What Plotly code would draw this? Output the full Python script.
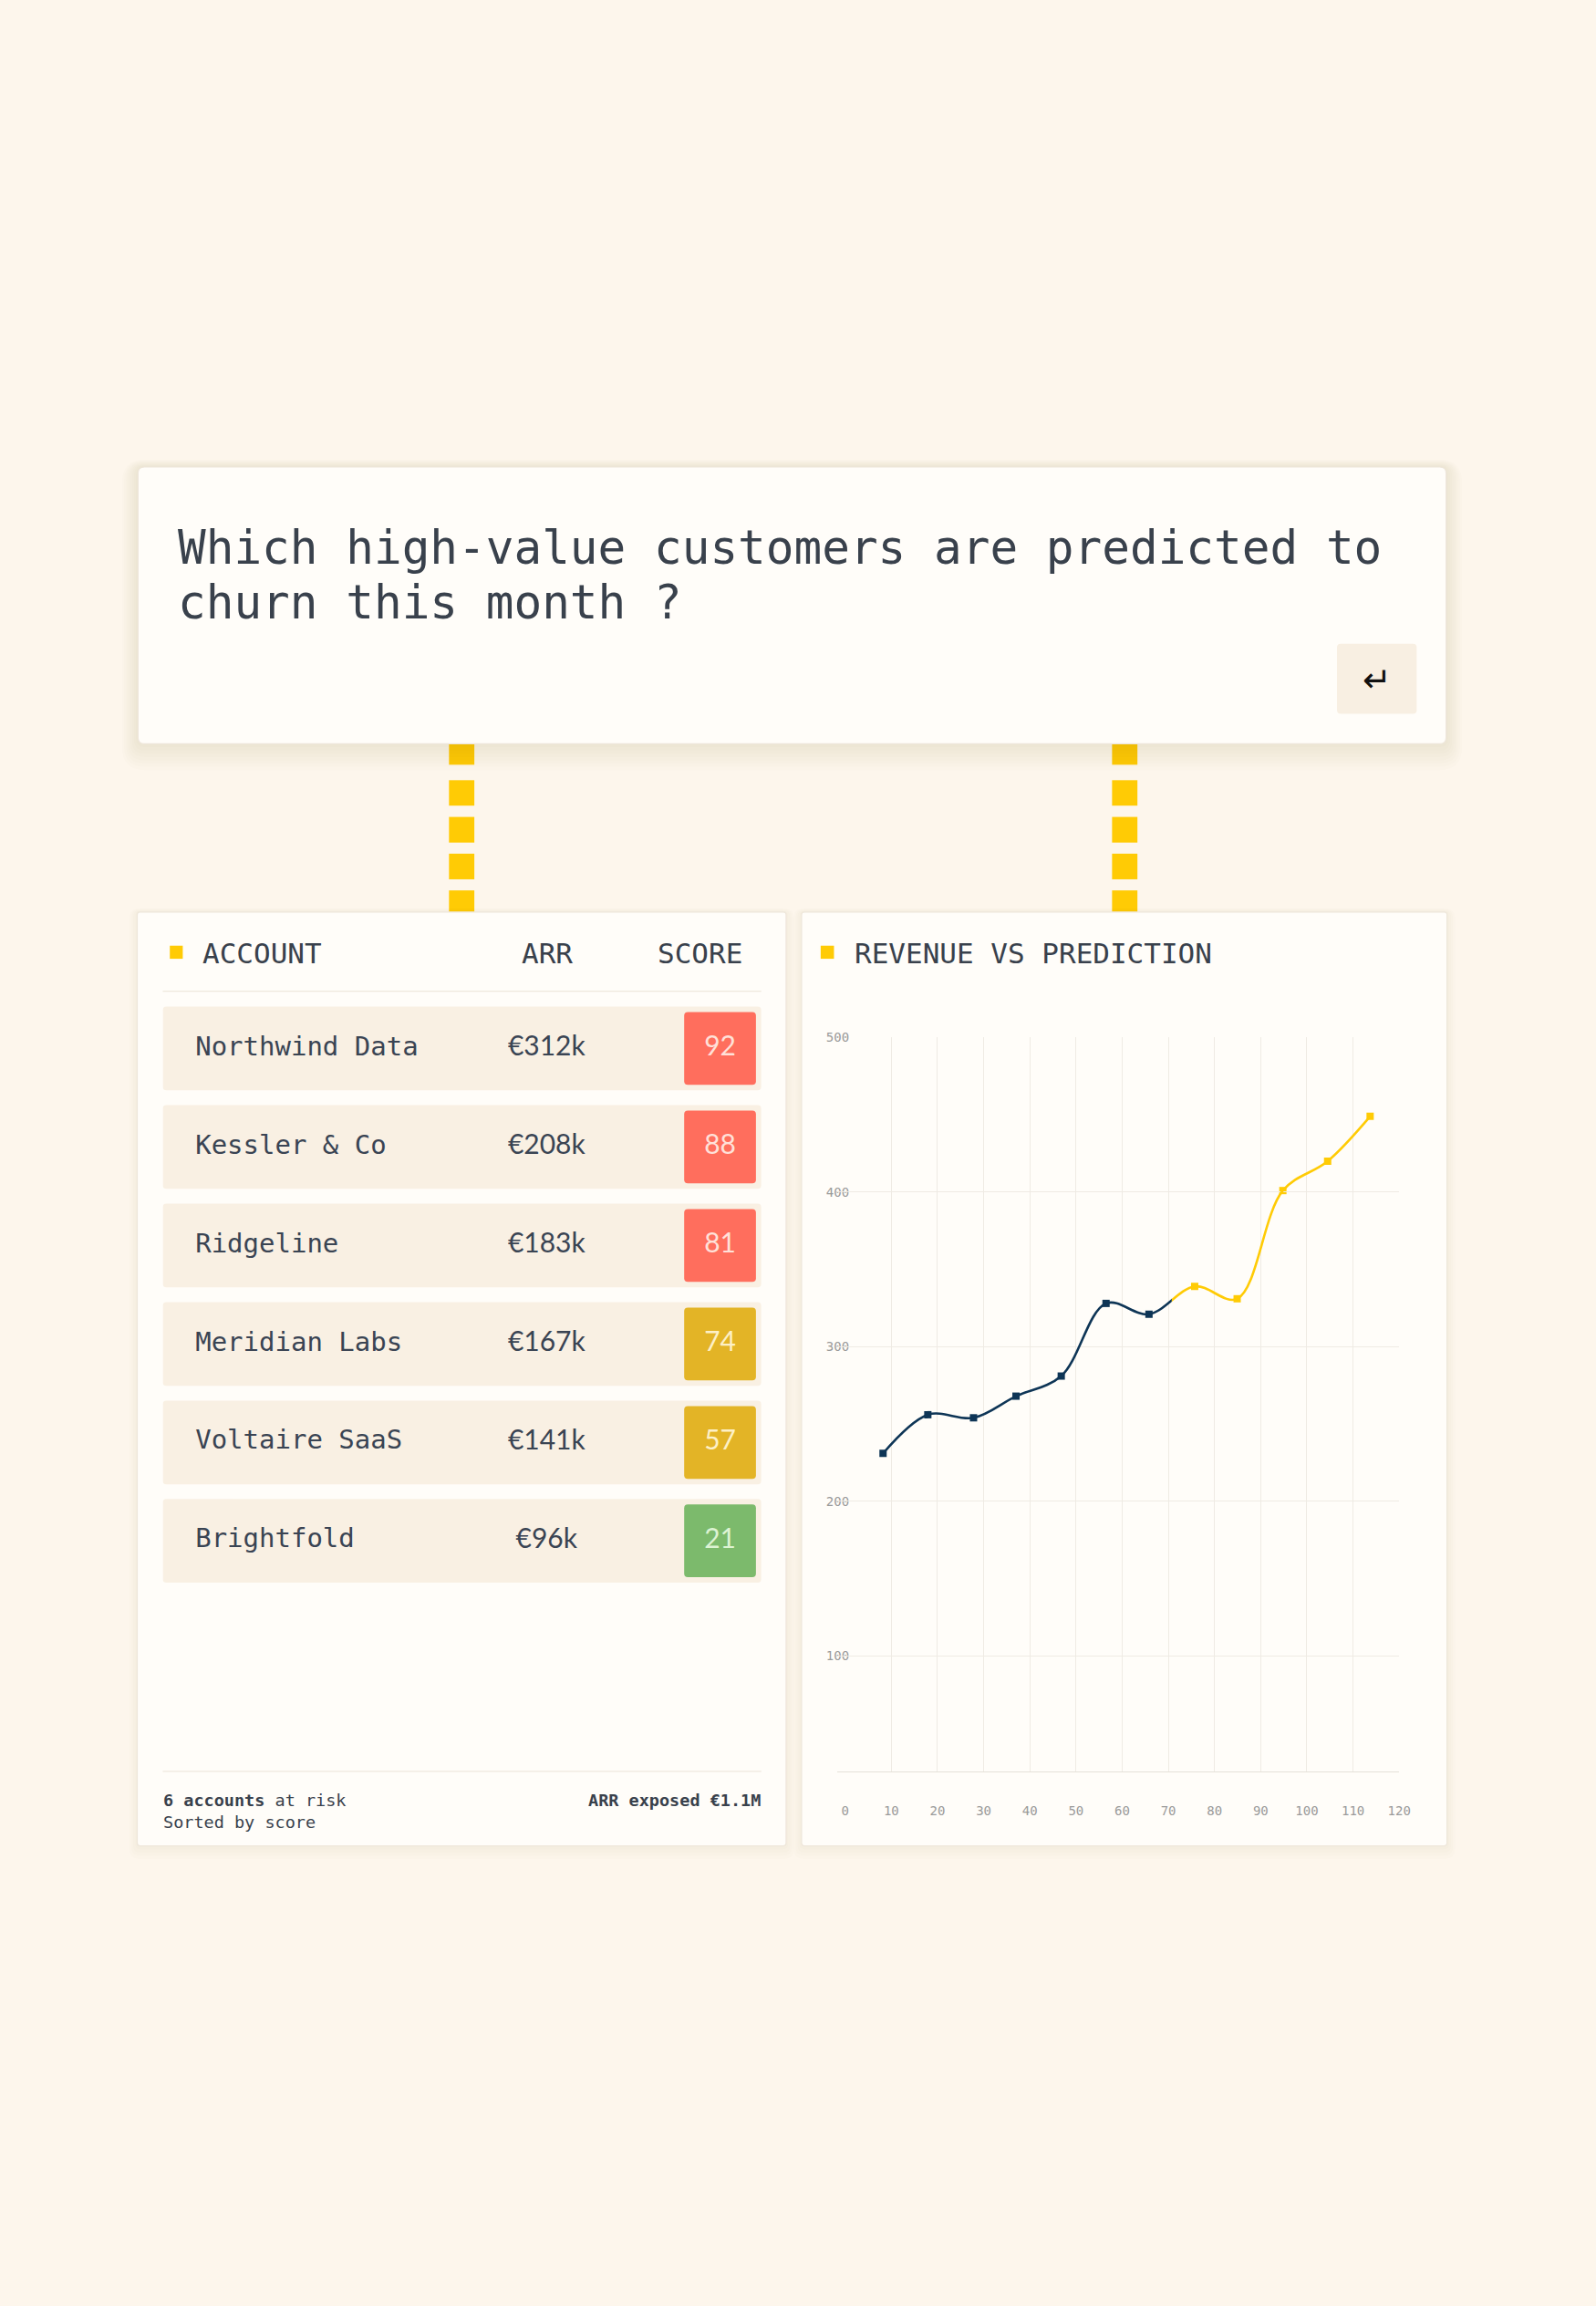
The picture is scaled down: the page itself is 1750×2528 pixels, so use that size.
import plotly.graph_objects as go

# ---------------- data ----------------
question = "Which high-value customers are predicted to"
question2 = "churn this month ?"

accounts = ["Northwind Data", "Kessler & Co", "Ridgeline", "Meridian Labs", "Voltaire SaaS", "Brightfold"]
arr_labels = ["€312k", "€208k", "€183k", "€167k", "€141k", "€96k"]
scores = [92, 88, 81, 74, 57, 21]

actual_x = [8.2, 17.9, 27.8, 37.0, 46.8, 56.5, 65.8]
actual_y = [231, 256, 254, 268, 281, 328, 321]
pred_x = [75.7, 84.9, 94.8, 104.5, 113.7]
pred_y = [339, 331, 401, 420, 449]

x_ticks = [0, 10, 20, 30, 40, 50, 60, 70, 80, 90, 100, 110, 120]
y_ticks = [100, 200, 300, 400, 500]

footer_left = "<b>6 accounts</b> at risk<br>Sorted by score"
footer_right = "<b>ARR exposed €1.1M</b>"

# ---------------- style ----------------
W, H = 1750, 2528
BG = "#FDF6EC"
CARD = "#FFFDF9"
CARD_BORDER = "#EEE6DA"
ROW = "#F9F0E3"
TEXT = "#39414C"
NAME = "#3A4453"
YELLOW = "#FFCB05"
NAVY = "#0E3556"
GRID = "#EFEBE4"
TICK = "#9A9A9A"
MONO = "DejaVu Sans Mono"
SANS = "Lato"


def score_fill(s):
    if s >= 80:
        return "#FF6E5D"
    if s >= 50:
        return "#E3B426"
    return "#7CBA6C"


def score_text(s):
    if s >= 80:
        return "#FFE1D9"
    if s >= 50:
        return "#FDF0C6"
    return "#DDF3D3"


def fx(x):
    return x / W


def fy(y):
    return 1 - y / H


def rrect(x0, y0, x1, y1, r):
    pts = [
        ("M", [(x0 + r, y0)]), ("L", [(x1 - r, y0)]), ("Q", [(x1, y0), (x1, y0 + r)]),
        ("L", [(x1, y1 - r)]), ("Q", [(x1, y1), (x1 - r, y1)]),
        ("L", [(x0 + r, y1)]), ("Q", [(x0, y1), (x0, y1 - r)]),
        ("L", [(x0, y0 + r)]), ("Q", [(x0, y0), (x0 + r, y0)]),
    ]
    s = ""
    for cmd, ps in pts:
        s += cmd + " " + " ".join(f"{fx(a):.6f},{fy(b):.6f}" for a, b in ps) + " "
    return s + "Z"


shapes = []


def card(x0, y0, x1, y1, r=6, shadow=6, alpha=0.018):
    for i in range(shadow, 0, -1):
        e = i * 2.2
        shapes.append(dict(type="path", xref="paper", yref="paper", layer="below",
                           path=rrect(x0 - e, y0 - e + i * 1.2, x1 + e, y1 + e + i * 1.4, r + e),
                           fillcolor=f"rgba(140,100,50,{alpha})", line=dict(width=0)))
    shapes.append(dict(type="path", xref="paper", yref="paper", layer="below",
                       path=rrect(x0, y0, x1, y1, r), fillcolor=CARD,
                       line=dict(color=CARD_BORDER, width=1.2)))


def rect(x0, y0, x1, y1, color, layer="below"):
    shapes.append(dict(type="rect", xref="paper", yref="paper", layer=layer,
                       x0=fx(x0), x1=fx(x1), y0=fy(y1), y1=fy(y0),
                       fillcolor=color, line=dict(width=0)))


def hline(x0, x1, y, color, width=1.2):
    shapes.append(dict(type="line", xref="paper", yref="paper", layer="below",
                       x0=fx(x0), x1=fx(x1), y0=fy(y), y1=fy(y),
                       line=dict(color=color, width=width)))


# connectors (drawn first so cards cover them)
for cx in (510, 1242.5):
    for a, b in [(806, 833), (850, 878), (890.4, 918.6), (930.8, 959), (971.2, 999)]:
        rect(cx - 14, a, cx + 14, b, YELLOW)

# question card
card(152.5, 505.6, 1597.5, 810, r=7, shadow=8, alpha=0.016)
shapes.append(dict(type="path", xref="paper", yref="paper", layer="below",
                   path=rrect(1477, 700, 1565, 777, 4), fillcolor="#F8EFE2",
                   line=dict(width=0)))

# bottom cards
card(151.6, 995, 868.4, 2022, r=3, shadow=4, alpha=0.014)
card(885.5, 995, 1598.5, 2022, r=3, shadow=4, alpha=0.014)

# headers decorations
rect(187.6, 1032, 201.9, 1046.4, YELLOW)
rect(906.6, 1032, 921.3, 1046.4, YELLOW)
hline(179.8, 841, 1082, "#EFE8DD")
hline(179.8, 841, 1940, "#EFE8DD")

annotations = []


def text(x, y, s, size, color=TEXT, family=MONO, xanchor="left", yanchor="middle", align="left"):
    annotations.append(dict(x=fx(x), y=fy(y), xref="paper", yref="paper", text=s,
                            showarrow=False, xanchor=xanchor, yanchor=yanchor, align=align,
                            font=dict(family=family, size=size, color=color)))


text(194, 594, question, 51)
text(194, 655, question2, 51)
text(1521, 739, "↵", 38, color="#111111", family="DejaVu Sans", xanchor="center")

text(222, 1040, "ACCOUNT", 31)
text(604, 1040, "ARR", 31, xanchor="center")
text(773, 1040, "SCORE", 31, xanchor="center")
text(942, 1040, "REVENUE VS PREDICTION", 31)

text(178, 1959, footer_left, 18.5, yanchor="top")
text(842, 1959, footer_right, 18.5, xanchor="right", yanchor="top", align="right")

fig = go.Figure()

# ---------------- table (own hidden axes) ----------------
row_span = 661.2
name_x = 36
arr_x = 424
score_base = 576
score_w = 79.3
score_cx = score_base + score_w / 2
n = len(accounts)

fig.add_trace(go.Bar(orientation="h", y=accounts, x=[row_span] * n, base=[0] * n,
                     width=0.85, marker=dict(color=ROW, cornerradius=4, line=dict(width=0)),
                     xaxis="x2", yaxis="y2", hoverinfo="skip", showlegend=False))
fig.add_trace(go.Bar(orientation="h", y=accounts, x=[score_w] * n, base=[score_base] * n,
                     width=80 / 108.3,
                     marker=dict(color=[score_fill(s) for s in scores], cornerradius=4, line=dict(width=0)),
                     xaxis="x2", yaxis="y2", hoverinfo="skip", showlegend=False))
fig.add_trace(go.Scatter(mode="text", x=[name_x] * n, y=accounts, text=accounts,
                         textposition="middle right",
                         textfont=dict(family=MONO, size=29, color=NAME),
                         xaxis="x2", yaxis="y2", hoverinfo="skip", showlegend=False))
fig.add_trace(go.Scatter(mode="text", x=[arr_x] * n, y=accounts, text=arr_labels,
                         textposition="middle center",
                         textfont=dict(family=SANS, size=30, color=NAME),
                         xaxis="x2", yaxis="y2", hoverinfo="skip", showlegend=False))
fig.add_trace(go.Scatter(mode="text", x=[score_cx] * n, y=accounts, text=[str(s) for s in scores],
                         textposition="middle center",
                         textfont=dict(family=SANS, size=30, color=[score_text(s) for s in scores]),
                         xaxis="x2", yaxis="y2", hoverinfo="skip", showlegend=False))

# ---------------- line chart ----------------
X0_PX, X1_PX = 925.0, 1545.7
XMIN, XMAX = -1.7, 120
all_x = actual_x + pred_x
all_y = actual_y + pred_y
split = (actual_x[-1] + pred_x[0]) / 2
split_px = X0_PX + (split - XMIN) / (XMAX - XMIN) * (X1_PX - X0_PX)

fig.add_trace(go.Scatter(x=all_x, y=all_y, mode="lines",
                         line=dict(color=NAVY, width=2.6, shape="spline", smoothing=1),
                         xaxis="x3", yaxis="y", hoverinfo="skip", showlegend=False))
fig.add_trace(go.Scatter(x=all_x, y=all_y, mode="lines",
                         line=dict(color=YELLOW, width=2.6, shape="spline", smoothing=1),
                         xaxis="x4", yaxis="y", hoverinfo="skip", showlegend=False))
fig.add_trace(go.Scatter(x=actual_x, y=actual_y, mode="markers", name="Revenue",
                         marker=dict(symbol="square", size=8, color=NAVY),
                         xaxis="x", yaxis="y", showlegend=False))
fig.add_trace(go.Scatter(x=pred_x, y=pred_y, mode="markers", name="Prediction",
                         marker=dict(symbol="square", size=8, color=YELLOW),
                         xaxis="x", yaxis="y", showlegend=False))

Y_TOP_PX, Y_BOT_PX = 1133.0, 1940.5

fig.update_layout(
    width=W, height=H,
    margin=dict(l=0, r=0, t=0, b=0),
    paper_bgcolor=BG, plot_bgcolor="rgba(0,0,0,0)",
    barmode="overlay",
    showlegend=False,
    shapes=shapes,
    annotations=annotations,
    xaxis=dict(domain=[fx(X0_PX), fx(X1_PX)], range=[XMIN, XMAX], tickvals=x_ticks,
               showgrid=False, zeroline=False, showline=True, linecolor="#E6E1D9", linewidth=1.2,
               ticks="", ticklabelstandoff=30,
               tickfont=dict(family=MONO, size=14, color=TICK),
               minor=dict(tickvals=x_ticks[1:], showgrid=True, gridcolor=GRID, gridwidth=1.2),
               anchor="y", fixedrange=True),
    yaxis=dict(domain=[fy(Y_BOT_PX), fy(Y_TOP_PX)], range=[25, 500], tickvals=y_ticks,
               showgrid=True, gridcolor=GRID, gridwidth=1.2, zeroline=False, showline=False,
               ticks="", ticklabelstandoff=-14,
               tickfont=dict(family=MONO, size=14, color=TICK), anchor="x", fixedrange=True),
    xaxis3=dict(domain=[fx(X0_PX), fx(split_px)], range=[XMIN, split], visible=False,
                anchor="y", fixedrange=True),
    xaxis4=dict(domain=[fx(split_px), fx(X1_PX)], range=[split, XMAX], visible=False,
                anchor="y", fixedrange=True),
    xaxis2=dict(domain=[fx(179.8), fx(841)], range=[0, row_span], visible=False,
                anchor="y2", fixedrange=True),
    yaxis2=dict(domain=[fy(1740.7), fy(1090.9)], type="category", range=[n - 0.5, -0.5],
                visible=False, anchor="x2", fixedrange=True),
)

fig.write_html(
    "out.html", config={"displayModeBar": False},
    post_script=(
        "document.documentElement.style.margin='0';document.documentElement.style.padding='0';"
        "document.documentElement.style.overflow='hidden';"
        "document.body.style.margin='0';document.body.style.padding='0';"
        "document.body.style.overflow='hidden';"
        "document.body.style.background='" + BG + "';"
    ),
)
